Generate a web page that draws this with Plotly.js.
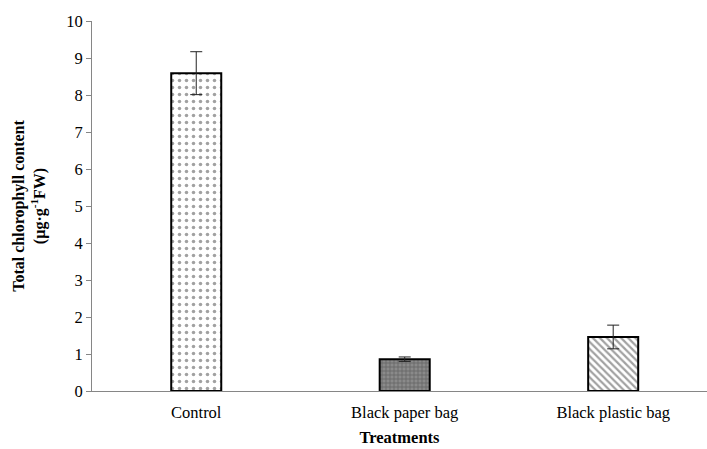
<!DOCTYPE html>
<html>
<head>
<meta charset="utf-8">
<script src="https://cdn.plot.ly/plotly-3.0.1.min.js"></script>
<style>html,body{margin:0;padding:0;background:#fff}#chart{width:707px;height:449px}</style>
</head>
<body>
<div id="chart"></div>
<script>
const categories = ["Control", "Black paper bag", "Black plastic bag"];
const chlorophyll = [8.59, 0.86, 1.46];
const errors = [0.58, 0.06, 0.32];
const yTicks = [0,1,2,3,4,5,6,7,8,9,10];

const patternShapes = [".", "+", "\\"];
const patternBg = ["#ffffff", "#8a8a8a", "#ffffff"];
const patternFg = ["#000000", "#222222", "#000000"];
const patternSize = [7, 4, 5];
const patternSolidity = [0.2, 0.4, 0.45];

const trace = {
  type: "bar",
  x: categories,
  y: chlorophyll,
  width: 0.24,
  marker: {
    color: patternBg,
    line: {color: "#000", width: 2},
    pattern: {shape: patternShapes, fgcolor: patternFg, bgcolor: patternBg, size: patternSize, solidity: patternSolidity, fillmode: "overlay"}
  },
  error_y: {type: "data", array: errors, visible: true, color: "#222", thickness: 1, width: 6},
  hoverinfo: "none"
};

const fam = "Times New Roman, Liberation Serif, DejaVu Serif, serif";

const layout = {
  width: 707, height: 449,
  margin: {l: 92, r: 0, t: 21, b: 58},
  paper_bgcolor: "#fff", plot_bgcolor: "#fff",
  showlegend: false,
  font: {family: fam, color: "#000", size: 16},
  xaxis: {
    type: "category",
    range: [-0.5, 2.45],
    showline: true, linecolor: "#868686", linewidth: 1,
    ticks: "", showgrid: false, zeroline: false,
    ticklabelstandoff: 6,
    tickfont: {family: fam, size: 16.5, color: "#000"},
    title: {text: "<b>Treatments</b>", font: {family: fam, size: 16.5, color: "#000"}, standoff: 10}
  },
  yaxis: {
    range: [0, 10],
    tickvals: yTicks,
    showline: true, linecolor: "#868686", linewidth: 1,
    ticks: "outside", ticklen: 5, tickcolor: "#868686",
    showgrid: false, zeroline: false,
    tickfont: {family: fam, size: 16.5, color: "#000"},
    title: {text: "<b>Total chlorophyll content<br>(µg·g<sup>-1</sup>FW)</b>", font: {family: fam, size: 16, color: "#000"}, standoff: 16}
  }
};

Plotly.newPlot("chart", [trace], layout, {staticPlot: true});
</script>
</body>
</html>
